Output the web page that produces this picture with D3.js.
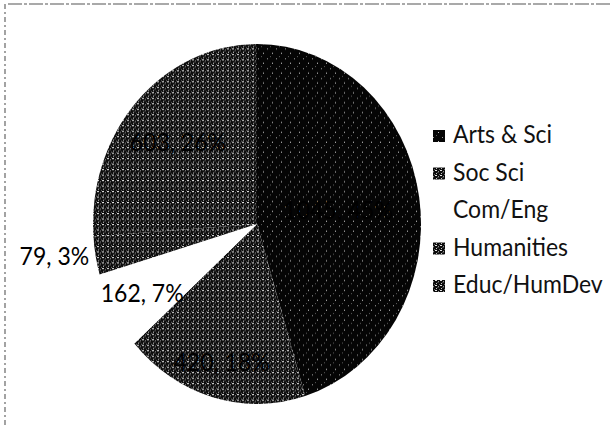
<!DOCTYPE html>
<html>
<head>
<meta charset="utf-8">
<script src="https://cdn.jsdelivr.net/npm/d3@7"></script>
<style>
  body { margin: 0; background: #fff; }
  svg text { font-family: Lato, "Open Sans", sans-serif; fill: #111; }
</style>
</head>
<body>
<svg id="chart" width="612" height="425"></svg>
<script>
// data
const categories = ["Arts & Sci", "Soc Sci", "Com/Eng", "Humanities", "Educ/HumDev"];
const counts = [1045, 420, 162, 79, 603];
const fills = ["url(#stipLight)", "url(#stipDense)", "#ffffff", "url(#stipDense)", "url(#stipDense)"];

const svg = d3.select("#chart");
const W = 612, H = 425;

// stipple textures like the photocopy
const defs = svg.append("defs");
const light = defs.append("pattern").attr("id", "stipLight")
  .attr("patternUnits", "userSpaceOnUse").attr("width", 9).attr("height", 9);
light.append("rect").attr("width", 9).attr("height", 9).attr("fill", "#050505");
[[1, 2, "#9a9a9a"], [6, 6, "#c8c8c8"], [4, 0, "#555"]].forEach(p =>
  light.append("rect").attr("x", p[0]).attr("y", p[1]).attr("width", 1).attr("height", 1).attr("fill", p[2]));

const dense = defs.append("pattern").attr("id", "stipDense")
  .attr("patternUnits", "userSpaceOnUse").attr("width", 5).attr("height", 5);
dense.append("rect").attr("width", 5).attr("height", 5).attr("fill", "#0c0c0c");
[[0, 0, "#e0e0e0"], [3, 1, "#8c8c8c"], [1, 3, "#c4c4c4"], [4, 4, "#6a6a6a"], [2, 2, "#3c3c3c"]].forEach(p =>
  dense.append("rect").attr("x", p[0]).attr("y", p[1]).attr("width", p[0] % 2 ? 1 : 2).attr("height", 1).attr("fill", p[2]));

// scan frame (dashed top and left edges)
svg.append("line").attr("x1", 8).attr("x2", W).attr("y1", 4).attr("y2", 4)
  .attr("stroke", "#555").attr("stroke-width", 1.2).attr("stroke-dasharray", "14 2 3 2");
svg.append("line").attr("x1", 5).attr("x2", 5).attr("y1", 4).attr("y2", H)
  .attr("stroke", "#666").attr("stroke-width", 1.2).attr("stroke-dasharray", "5 3 2 3");

// pie (scan is a little stretched vertically)
const cx = 257, cy = 224, r = 164, sy = 1.0976;
const total = d3.sum(counts);
const pie = d3.pie().sort(null).value(d => d)(counts);
const arc = d3.arc().innerRadius(0).outerRadius(r);

const g = svg.append("g").attr("transform", `translate(${cx},${cy}) scale(1,${sy})`);
g.selectAll("path.slice")
  .data(pie)
  .join("path")
  .attr("class", "slice")
  .attr("d", arc)
  .attr("fill", (d, i) => fills[i]);

// data labels: "value, pct"
const fmtPct = v => Math.round(v / total * 100) + "%";
const labelArc = k => d3.arc().innerRadius(r * k).outerRadius(r * k);
svg.selectAll("text.lbl")
  .data(pie)
  .join("text")
  .attr("class", "lbl")
  .each(function(d) {
    const share = d.value / total;
    const small = share < 0.05;
    const k = small ? 1.04 : share > 0.4 ? 0.5 : share > 0.2 ? 0.66 : 0.8;
    const c = labelArc(k).centroid(d);
    d3.select(this)
      .attr("transform", `translate(${cx + c[0]},${cy + c[1] * sy + 8}) scale(1,${sy})`)
      .attr("text-anchor", small ? "end" : "middle");
  })
  .style("font-size", "23px")
  .style("fill", "#000")
  .text(d => d.data + ", " + fmtPct(d.value));

// legend
const ly = d3.scalePoint().domain(categories).range([143, 293]);
const leg = svg.append("g");
leg.selectAll("rect")
  .data(categories)
  .join("rect")
  .attr("x", 433)
  .attr("y", d => ly(d) - 13)
  .attr("width", 12)
  .attr("height", 12)
  .attr("fill", (d, i) => fills[i]);
leg.selectAll("text")
  .data(categories)
  .join("text")
  .attr("transform", d => `translate(453,${ly(d)}) scale(1,${sy})`)
  .style("font-size", "23px")
  .text(d => d);
</script>
</body>
</html>
